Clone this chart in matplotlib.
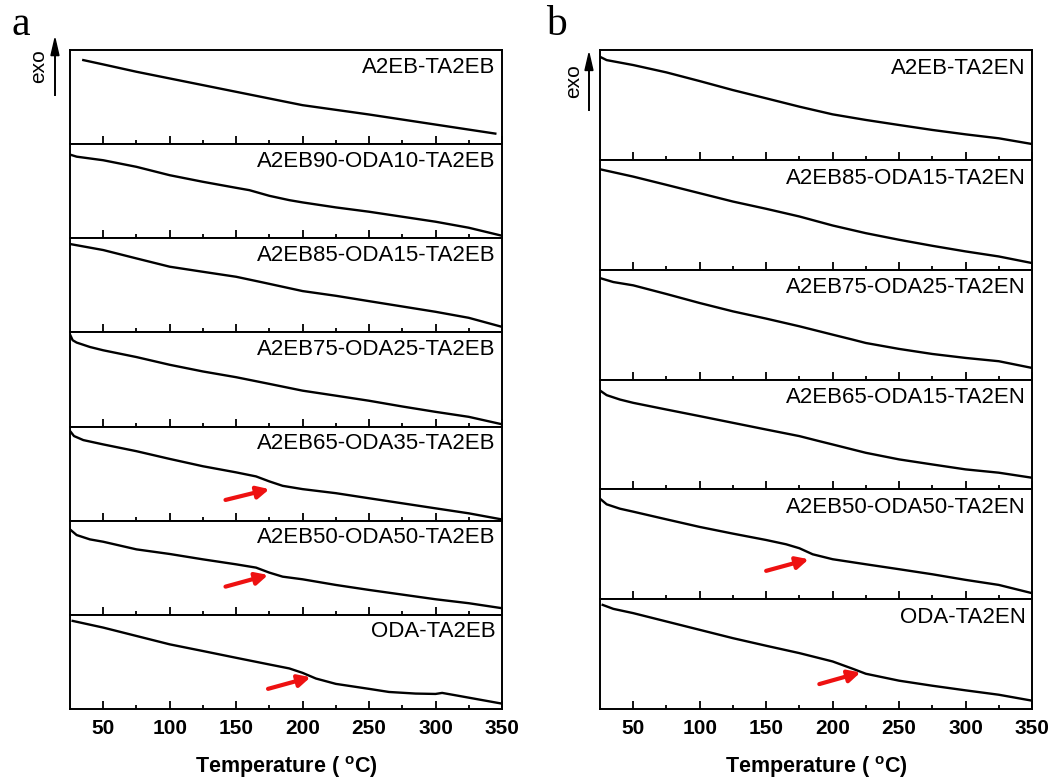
import numpy as np
import matplotlib.pyplot as plt

plt.rcParams['font.family'] = ['Liberation Sans', 'DejaVu Sans']
plt.rcParams['mathtext.fontset'] = 'custom'
plt.rcParams['mathtext.bf'] = 'Liberation Sans:bold'
plt.rcParams['mathtext.rm'] = 'Liberation Sans'

# Donnees DSC (signal normalise dans chaque sous-panneau)
T_std = [25, 50, 75, 100, 125, 150, 175, 200, 225, 250, 275, 300, 325, 350]

noms_a = ['A2EB-TA2EB', 'A2EB90-ODA10-TA2EB', 'A2EB85-ODA15-TA2EB',
          'A2EB75-ODA25-TA2EB', 'A2EB65-ODA35-TA2EB', 'A2EB50-ODA50-TA2EB',
          'ODA-TA2EB']
T_a = [
    [35, 50, 75, 100, 150, 200, 250, 300, 345],
    [25, 30, 50, 75, 100, 125, 150, 160, 175, 190, 200, 225, 250, 300, 325, 350],
    [25, 50, 75, 100, 125, 150, 170, 200, 225, 250, 300, 325, 350],
    [25, 27, 30, 40, 50, 75, 100, 125, 150, 175, 200, 225, 250, 275, 300, 325, 350],
    [25, 28, 35, 50, 75, 100, 125, 150, 165, 175, 185, 200, 225, 250, 300, 325, 350],
    [25, 30, 40, 50, 75, 100, 125, 150, 165, 175, 185, 200, 225, 250, 300, 325, 350],
    [27, 50, 75, 100, 125, 150, 175, 190, 200, 210, 225, 250, 265, 285, 300, 305, 315, 350],
]
S_a = [
    [0.894, 0.848, 0.770, 0.699, 0.557, 0.415, 0.316, 0.209, 0.113],
    [0.890, 0.868, 0.830, 0.760, 0.671, 0.601, 0.537, 0.512, 0.452, 0.406, 0.382,
     0.329, 0.283, 0.177, 0.113, 0.028],
    [0.940, 0.876, 0.787, 0.699, 0.645, 0.592, 0.532, 0.440, 0.390, 0.333, 0.220,
     0.156, 0.060],
    [0.979, 0.918, 0.893, 0.846, 0.811, 0.739, 0.657, 0.586, 0.525, 0.454, 0.382,
     0.329, 0.275, 0.214, 0.157, 0.104, 0.025],
    [0.954, 0.900, 0.857, 0.811, 0.739, 0.657, 0.579, 0.514, 0.471, 0.418, 0.371,
     0.336, 0.293, 0.239, 0.132, 0.079, 0.014],
    [0.908, 0.848, 0.802, 0.777, 0.696, 0.647, 0.590, 0.537, 0.502, 0.449, 0.406,
     0.378, 0.318, 0.265, 0.166, 0.124, 0.071],
    [0.936, 0.865, 0.776, 0.687, 0.616, 0.544, 0.473, 0.431, 0.384, 0.324, 0.267,
     0.214, 0.181, 0.164, 0.160, 0.171, 0.146, 0.057],
]
# fleches rouges : (panneau, T_depart, S_depart, T_fin, S_fin)
fleches_a = [(4, 142, 0.221, 175, 0.336),
             (5, 142, 0.300, 174, 0.424),
             (6, 174, 0.214, 206, 0.338)]

noms_b = ['A2EB-TA2EN', 'A2EB85-ODA15-TA2EN', 'A2EB75-ODA25-TA2EN',
          'A2EB65-ODA15-TA2EN', 'A2EB50-ODA50-TA2EN', 'ODA-TA2EN']
T_b = [
    [25, 30, 50, 75, 100, 125, 150, 175, 200, 225, 250, 275, 300, 325, 350],
    T_std,
    [25, 35, 50, 75, 100, 125, 150, 175, 200, 215, 225, 250, 275, 300, 325, 350],
    [25, 30, 40, 50, 75, 100, 125, 150, 175, 190, 200, 225, 250, 275, 300, 325, 350],
    [25, 30, 40, 50, 75, 100, 125, 150, 165, 175, 185, 200, 225, 250, 275, 300, 325, 350],
    [27, 35, 50, 75, 100, 125, 150, 175, 200, 215, 225, 250, 275, 300, 325, 350],
]
S_b = [
    [0.939, 0.909, 0.864, 0.797, 0.718, 0.636, 0.561, 0.485, 0.415, 0.364, 0.318,
     0.273, 0.233, 0.197, 0.145],
    [0.915, 0.848, 0.773, 0.697, 0.621, 0.555, 0.485, 0.403, 0.333, 0.273, 0.218,
     0.167, 0.121, 0.061],
    [0.924, 0.888, 0.858, 0.779, 0.697, 0.621, 0.555, 0.485, 0.409, 0.364, 0.333,
     0.279, 0.233, 0.197, 0.167, 0.106],
    [0.900, 0.858, 0.818, 0.788, 0.727, 0.667, 0.606, 0.545, 0.485, 0.439, 0.409,
     0.333, 0.273, 0.227, 0.182, 0.152, 0.106],
    [0.915, 0.864, 0.824, 0.797, 0.727, 0.658, 0.597, 0.539, 0.500, 0.464, 0.409,
     0.364, 0.318, 0.273, 0.227, 0.176, 0.130, 0.055],
    [0.948, 0.912, 0.873, 0.797, 0.721, 0.645, 0.576, 0.509, 0.433, 0.367, 0.321,
     0.258, 0.212, 0.170, 0.130, 0.076],
]
fleches_b = [(4, 150, 0.258, 182, 0.364),
             (5, 190, 0.227, 221, 0.333)]

ticks_maj = [50, 100, 150, 200, 250, 300, 350]


def tracer_colonne(fig, gauche, noms, T, S, fleches):
    largeur = 0.411
    haut, bas = 0.936, 0.0945
    n = len(noms)
    h = (haut - bas) / n
    axes = []
    for i in range(n):
        ax = fig.add_axes([gauche, haut - (i + 1) * h, largeur, h])
        ax.plot(T[i], S[i], color='black', lw=1.7)
        ax.set_xlim(25, 350)
        ax.set_ylim(0, 1)
        ax.set_yticks([])
        ax.set_xticks(ticks_maj)
        ax.set_xticks([75, 125, 175, 225, 275, 325], minor=True)
        ax.tick_params(axis='x', which='major', direction='in', length=6,
                       width=1.3, top=False, labelsize=15, pad=7)
        ax.tick_params(axis='x', which='minor', direction='in', length=3,
                       width=1.3, top=False)
        for s in ax.spines.values():
            s.set_linewidth(1.4)
        ax.text(0.985, 0.93, noms[i], transform=ax.transAxes, ha='right',
                va='top', fontsize=16)
        if i < n - 1:
            ax.tick_params(axis='x', labelbottom=False)
        else:
            for lab in ax.get_xticklabels():
                lab.set_fontweight('bold')
            ax.set_xlabel('Temperature ( $^\\mathbf{o}$C)', fontsize=15.5,
                          fontweight='bold', labelpad=12)
        axes.append(ax)
    for (k, t0, s0, t1, s1) in fleches:
        axes[k].annotate('', xy=(t1, s1), xytext=(t0, s0),
                         arrowprops=dict(arrowstyle='-|>', color='#ee1111',
                                         lw=3, mutation_scale=18,
                                         shrinkA=0, shrinkB=0))
    return axes


fig = plt.figure(figsize=(10.51, 7.83), dpi=100)

tracer_colonne(fig, 0.0666, noms_a, T_a, S_a, fleches_a)
tracer_colonne(fig, 0.5709, noms_b, T_b, S_b, fleches_b)

# lettres des panneaux
fig.text(0.011, 0.944, 'a', family='Liberation Serif', fontsize=30, va='bottom')
fig.text(0.520, 0.944, 'b', family='Liberation Serif', fontsize=30, va='bottom')

# indication exo
for xa, xt, y0, y1 in [(0.0523, 0.037, 0.879, 0.951), (0.5604, 0.546, 0.860, 0.932)]:
    fig.add_artist(plt.Line2D([xa, xa], [y0, y1 - 0.02], color='black', lw=1.4))
    fig.patches.append(plt.Polygon([[xa - 0.0038, y1 - 0.022], [xa + 0.0038, y1 - 0.022],
                                    [xa, y1]], closed=True, color='black',
                                   transform=fig.transFigure, figure=fig))
    fig.text(xt, (y0 + y1) / 2, 'exo', rotation=90, ha='center', va='center',
             fontsize=15)

plt.savefig('out.png', dpi=100)
